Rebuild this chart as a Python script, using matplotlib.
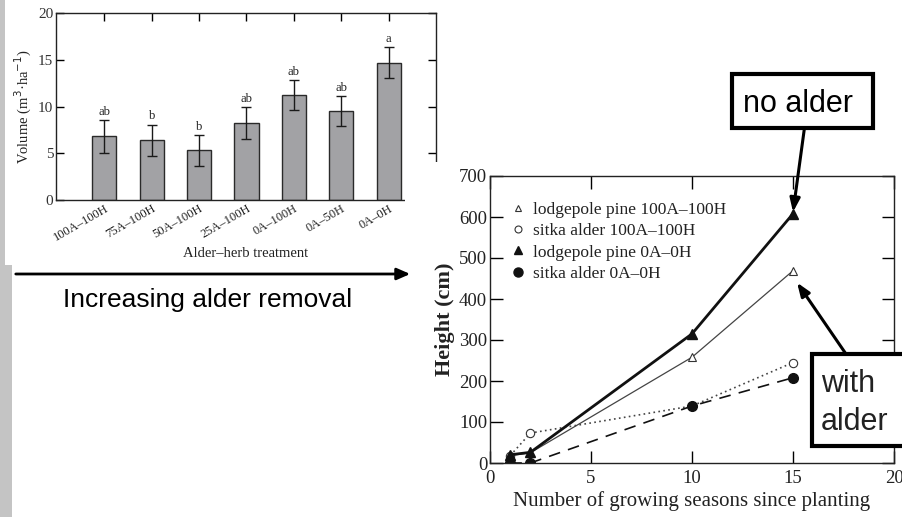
import matplotlib
matplotlib.use("Agg")
import matplotlib.pyplot as plt
from matplotlib.patches import Rectangle, FancyArrowPatch
from matplotlib.lines import Line2D

# ---------------- data ----------------
treatments = ["100A\u2013100H", "75A\u2013100H", "50A\u2013100H", "25A\u2013100H",
              "0A\u2013100H", "0A\u201350H", "0A\u20130H"]
volume = [6.8, 6.4, 5.3, 8.2, 11.25, 9.5, 14.7]
volume_err = [1.75, 1.65, 1.65, 1.7, 1.6, 1.6, 1.65]
letters = ["ab", "b", "b", "ab", "ab", "ab", "a"]

seasons = [1, 2, 10, 15]
pine_100A = [18, 25, 258, 469]
alder_100A = [18, 73, 139, 245]
pine_0A = [20, 26, 315, 608]
alder_0A = [0, 0, 139, 208]
series_labels = ["lodgepole pine 100A\u2013100H", "sitka alder 100A\u2013100H",
                 "lodgepole pine 0A\u20130H", "sitka alder 0A\u20130H"]

W, H = 902, 517
fig = plt.figure(figsize=(W / 100, H / 100), dpi=100)
fig.patch.set_facecolor("white")
SERIF = ["Liberation Serif", "DejaVu Serif"]
SANS = ["Liberation Sans", "DejaVu Sans"]


def fx(x):
    return x / W


def fy(y):
    return 1 - y / H


def rect(x0, y0, x1, y1):
    return [fx(x0), fy(y1), fx(x1) - fx(x0), fy(y0) - fy(y1)]


# slide background strip at left
fig.add_artist(Rectangle((0, 0), fx(12), fy(265), transform=fig.transFigure,
                         facecolor="#c4c4c4", edgecolor="none", zorder=0))
fig.add_artist(Rectangle((0, fy(265)), fx(5), 1 - fy(265), transform=fig.transFigure,
                         facecolor="#c4c4c4", edgecolor="none", zorder=0))

# ---------------- left bar chart ----------------
ax1 = fig.add_axes(rect(56, 13, 436, 200))
ax1.set_zorder(1)
xpos = list(range(len(treatments)))
ax1.bar(xpos, volume, width=0.51, color="#a2a2a5", edgecolor="#2a2a2a", linewidth=1.0)
ax1.errorbar(xpos, volume, yerr=volume_err, fmt="none", ecolor="#1a1a1a",
             elinewidth=1.0, capsize=3.5, capthick=1.0)
for xi, v, e, lab in zip(xpos, volume, volume_err, letters):
    ax1.text(xi, v + e + 0.25, lab, ha="center", va="bottom", fontsize=9,
             family=SERIF, color="#222")
ax1.set_xlim(-1.02, 7.0)
ax1.set_ylim(0, 20)
ax1.set_yticks([0, 5, 10, 15, 20])
ax1.set_xticks(xpos)
ax1.set_xticklabels(treatments, rotation=30, ha="right", rotation_mode="anchor",
                    fontsize=9, family=SERIF, color="#222")
for t in ax1.get_yticklabels():
    t.set_family(SERIF)
    t.set_fontsize(11)
    t.set_color("#333")
ax1.tick_params(axis="y", direction="in", length=6, width=1, right=True, left=True,
                pad=2)
ax1.tick_params(axis="x", direction="in", length=6, width=1, top=True, bottom=False,
                pad=2)
for s in ax1.spines.values():
    s.set_linewidth(1.0)
    s.set_color("#222")
ax1.set_xlabel("Alder\u2013herb treatment", fontsize=10.5, family=SERIF,
               color="#222", labelpad=2)
ax1.set_ylabel("Volume (m$^3$\u00b7ha$^{-1}$)", fontsize=10.5, family=SERIF,
               color="#222", labelpad=3)

# white cover of the second picture
fig.add_artist(Rectangle((fx(405), 0), 1 - fx(405), fy(162), transform=fig.transFigure,
                         facecolor="white", edgecolor="none", zorder=2))

# ---------------- right line chart ----------------
ax2 = fig.add_axes(rect(490, 176, 894, 463))
ax2.set_zorder(3)
ax2.plot(seasons, pine_100A, color="#444", lw=0.9, ls="-", marker="^", ms=5.5,
         mfc="white", mec="#333", mew=0.8)
ax2.plot(seasons, alder_100A, color="#444", lw=1.2, ls=(0, (1, 2)), marker="o", ms=6,
         mfc="white", mec="#333", mew=0.8)
ax2.plot(seasons, pine_0A, color="#111", lw=2.0, ls="-", marker="^", ms=7,
         mfc="#111", mec="#111")
ax2.plot(seasons, alder_0A, color="#111", lw=1.2, ls=(0, (7, 5)), marker="o", ms=7,
         mfc="#111", mec="#111")
ax2.set_xlim(0, 20)
ax2.set_ylim(0, 700)
ax2.set_xticks([0, 5, 10, 15, 20])
ax2.set_yticks(range(0, 701, 100))
ax2.tick_params(direction="in", length=9, width=1, top=True, right=True,
                labelsize=13.5, labelcolor="#222")
ax2.tick_params(axis="x", pad=5)
ax2.tick_params(axis="y", pad=2)
for t in ax2.get_xticklabels() + ax2.get_yticklabels():
    t.set_family(SERIF)
for s in ax2.spines.values():
    s.set_linewidth(1.0)
    s.set_color("#222")
ax2.set_xlabel("Number of growing seasons since planting", fontsize=15, family=SERIF,
               color="#222", labelpad=3)
ax2.set_ylabel("Height (cm)", fontsize=16, family=SERIF, fontweight="bold",
               color="#222", labelpad=3)

handles = [
    Line2D([], [], ls="none", marker="^", ms=5, mfc="white", mec="#333", mew=0.8),
    Line2D([], [], ls="none", marker="o", ms=5, mfc="white", mec="#333", mew=0.8),
    Line2D([], [], ls="none", marker="^", ms=6, mfc="#111", mec="#111"),
    Line2D([], [], ls="none", marker="o", ms=6.5, mfc="#111", mec="#111"),
]
leg = ax2.legend(handles, series_labels, loc="upper left", bbox_to_anchor=(0.01, 0.965),
                 frameon=False, handlelength=1.0, handletextpad=0.35, labelspacing=0.3,
                 prop={"family": SERIF, "size": 12.5})
for t in leg.get_texts():
    t.set_color("#222")

# ---------------- annotations ----------------
fig.add_artist(FancyArrowPatch(
    (fx(13), fy(274)), (fx(413), fy(274)), transform=fig.transFigure,
    arrowstyle="-|>,head_length=8,head_width=3.5", color="black", lw=2,
    mutation_scale=1, zorder=5))
fig.text(fx(63), fy(307), "Increasing alder removal", fontsize=19, family=SANS,
         color="black", ha="left", va="baseline", zorder=5)

# no alder box
fig.add_artist(Rectangle((fx(732), fy(128)), fx(873) - fx(732), fy(74) - fy(128),
                         transform=fig.transFigure, facecolor="white",
                         edgecolor="black", lw=3, zorder=5))
fig.text(fx(743), fy(112), "no alder", fontsize=22, family=SANS, color="black",
         ha="left", va="baseline", zorder=6)
ax2.annotate("", xy=(15, 612), xycoords="data",
             xytext=(fx(805), fy(124)), textcoords="figure fraction",
             arrowprops=dict(arrowstyle="-|>,head_length=0.8,head_width=0.3",
                             color="black", lw=2.2, shrinkA=0, shrinkB=0),
             annotation_clip=False, zorder=7)

# with alder box
fig.add_artist(Rectangle((fx(812), fy(446)), fx(912) - fx(812), fy(354) - fy(446),
                         transform=fig.transFigure, facecolor="white",
                         edgecolor="black", lw=3, zorder=5))
fig.text(fx(821), fy(392), "with", fontsize=22, family=SANS, color="#222",
         ha="left", va="baseline", zorder=6)
fig.text(fx(821), fy(430), "alder", fontsize=22, family=SANS, color="#222",
         ha="left", va="baseline", zorder=6)
ax2.annotate("", xy=(15.2, 440), xycoords="data",
             xytext=(fx(846), fy(354)), textcoords="figure fraction",
             arrowprops=dict(arrowstyle="-|>,head_length=0.8,head_width=0.3",
                             color="black", lw=2.2, shrinkA=0, shrinkB=0),
             annotation_clip=False, zorder=7)

fig.savefig("out.png", dpi=100, facecolor="white")
